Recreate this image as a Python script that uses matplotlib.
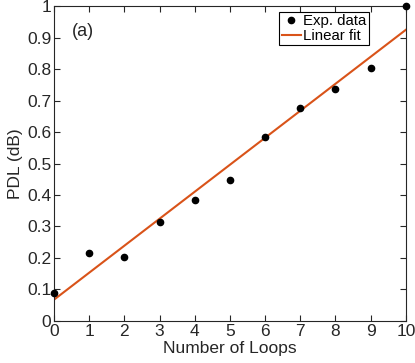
import numpy as np
import matplotlib.pyplot as plt

loops = np.arange(0, 11)
pdl = np.array([0.088, 0.217, 0.204, 0.314, 0.383, 0.449, 0.585, 0.675, 0.737, 0.805, 1.0])

plt.rcParams["font.family"] = ["Liberation Sans", "DejaVu Sans"]
plt.rcParams["font.size"] = 12.5

fig = plt.figure(figsize=(4.15, 3.63), dpi=100)
ax = fig.add_axes([0.130, 0.116, 0.848, 0.867])

# Linear fit
coef = np.polyfit(loops, pdl, 1)
xfit = np.array([0, 10])
ax.plot(loops, pdl, "o", color="black", markersize=4.5, label="Exp. data", clip_on=False, zorder=3)
ax.plot(xfit, np.polyval(coef, xfit), color=(0.85, 0.325, 0.098), linewidth=1.5, label="Linear fit")

ax.set_xlim(0, 10)
ax.set_ylim(0, 1)
ax.set_xticks(np.arange(0, 11))
ax.set_yticks(np.arange(0, 1.01, 0.1))
ax.set_yticklabels(["0", "0.1", "0.2", "0.3", "0.4", "0.5", "0.6", "0.7", "0.8", "0.9", "1"])
ax.tick_params(direction="in", top=True, right=True, length=4, colors="0.15", labelcolor="0.15", pad=2)
for s in ax.spines.values():
    s.set_color("0.15")
    s.set_linewidth(0.8)

ax.set_xlabel("Number of Loops", color="0.15", labelpad=2)
ax.set_ylabel("PDL (dB)", color="0.15", labelpad=3)
ax.text(0.052, 0.92, "(a)", transform=ax.transAxes, fontsize=13, color="0.15", va="center")

leg = ax.legend(loc="upper right", bbox_to_anchor=(0.895, 0.981), fancybox=False, edgecolor="black",
                framealpha=1, borderpad=0.15, handlelength=1.3, handletextpad=0.15,
                labelspacing=0.05, borderaxespad=0, fontsize=10.8)
leg.get_frame().set_linewidth(0.8)

fig.savefig("out.png", dpi=100)
